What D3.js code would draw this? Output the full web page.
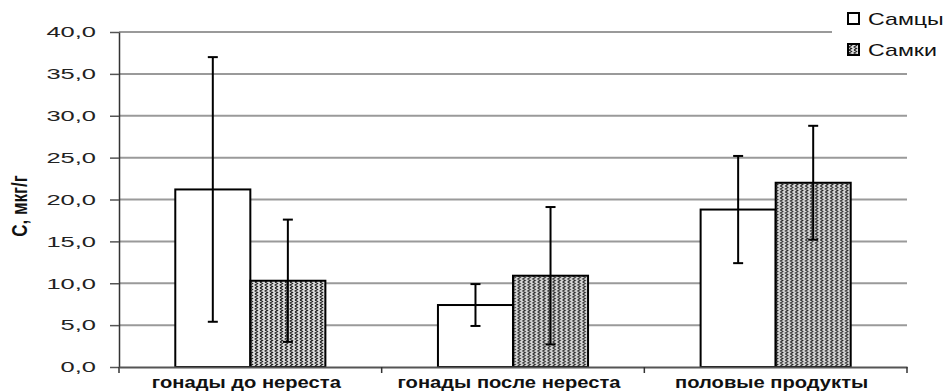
<!DOCTYPE html>
<html>
<head>
<meta charset="utf-8">
<script src="https://cdn.jsdelivr.net/npm/d3@7"></script>
<style>
  body { margin: 0; background: #fff; }
  svg { display: block; font-family: Arial, "Liberation Sans", sans-serif; }
</style>
</head>
<body>
<div id="chart"></div>
<script>
const categories = ['гонады до нереста', 'гонады после нереста', 'половые продукты']
const seriesNames = ['Самцы', 'Самки']
const males = [21.2, 7.4, 18.8]
const malesErr = [15.8, 2.5, 6.4]
const females = [10.3, 10.9, 22.0]
const femalesErr = [7.3, 8.2, 6.8]
const yTicks = [0, 5, 10, 15, 20, 25, 30, 35, 40]
const yLabel = 'С, мкг/г'

function draw(el) {
    let dimensions = {
        width: 946,
        height: 392,
        left: 119,
        right: 907,
        top: 32,
        bottom: 367,
    }

    const rows = categories.map((c, i) => ({
        cat: c,
        values: [
            { s: seriesNames[0], v: males[i], e: malesErr[i] },
            { s: seriesNames[1], v: females[i], e: femalesErr[i] },
        ]
    }))

    const x = d3.scaleBand()
        .domain(categories)
        .range([dimensions.left, dimensions.right])

    const xInner = d3.scaleBand()
        .domain(seriesNames)
        .range([0, x.bandwidth()])
        .paddingOuter(0.75)

    const y = d3.scaleLinear()
        .domain([0, 40])
        .range([dimensions.bottom, dimensions.top])

    const locale = d3.formatLocale({ decimal: ',', thousands: ' ', grouping: [3], currency: ['', ''] })
    const fmt = locale.format('.1f')

    const svg = d3.select(el)
        .append('svg')
        .attr('width', dimensions.width)
        .attr('height', dimensions.height)

    const defs = svg.append('defs')
    const pat = defs.append('pattern')
        .attr('id', 'zig')
        .attr('patternUnits', 'userSpaceOnUse')
        .attr('width', 5)
        .attr('height', 6)
    pat.append('rect').attr('width', 5).attr('height', 6).attr('fill', '#e0e0e0')
    pat.append('path')
        .attr('d', 'M1,0 L3.5,1.5 L1,3 L3.5,4.5 L1,6')
        .attr('fill', 'none')
        .attr('stroke', '#222')
        .attr('stroke-width', 1.2)

    const fill = { 'Самцы': '#fff', 'Самки': 'url(#zig)' }

    // grid
    svg.append('g')
        .selectAll('line')
        .data(yTicks.filter(d => d > 0))
        .join('line')
        .attr('x1', dimensions.left)
        .attr('x2', dimensions.right)
        .attr('y1', d => y(d))
        .attr('y2', d => y(d))
        .attr('stroke', '#9a9a9a')
        .attr('stroke-width', 2)

    // bars
    const groups = svg.append('g')
        .selectAll('g')
        .data(rows)
        .join('g')
        .attr('transform', d => `translate(${x(d.cat)},0)`)

    groups.selectAll('rect')
        .data(d => d.values)
        .join('rect')
        .attr('x', d => xInner(d.s))
        .attr('y', d => y(d.v))
        .attr('width', xInner.bandwidth())
        .attr('height', d => y(0) - y(d.v))
        .attr('fill', d => fill[d.s])
        .attr('stroke', '#000')
        .attr('stroke-width', 2)

    // error bars
    const err = groups.selectAll('g.err')
        .data(d => d.values)
        .join('g')
        .attr('class', 'err')
        .attr('transform', d => `translate(${xInner(d.s) + xInner.bandwidth() / 2},0)`)
        .attr('stroke', '#000')
        .attr('stroke-width', 2)

    err.append('line')
        .attr('y1', d => y(d.v - d.e))
        .attr('y2', d => y(d.v + d.e))
    err.append('line')
        .attr('x1', -5).attr('x2', 5)
        .attr('y1', d => y(d.v + d.e))
        .attr('y2', d => y(d.v + d.e))
    err.append('line')
        .attr('x1', -5).attr('x2', 5)
        .attr('y1', d => y(d.v - d.e))
        .attr('y2', d => y(d.v - d.e))

    // y axis
    const sx = 1.7
    const yAxis = svg.append('g')
        .attr('transform', `translate(${dimensions.left},0)`)
        .call(d3.axisLeft(y).tickValues(yTicks).tickFormat(fmt).tickSize(9).tickSizeOuter(0))
    yAxis.select('.domain').attr('stroke', '#333').attr('stroke-width', 1.5)
    yAxis.selectAll('.tick line').attr('stroke', '#555').attr('stroke-width', 1.5)
    yAxis.selectAll('.tick text')
        .attr('font-size', 15)
        .attr('fill', '#222')
        .attr('font-family', 'Arial, "Liberation Sans", sans-serif')
        .attr('x', -23 / sx)
        .attr('transform', `scale(${sx},1)`)

    // x axis
    const xAxis = svg.append('g')
        .attr('transform', `translate(0,${dimensions.bottom})`)
        .call(d3.axisBottom(x).tickSize(0).tickSizeOuter(0))
    xAxis.select('.domain').attr('stroke', '#555').attr('stroke-width', 2)
    xAxis.selectAll('.tick text')
        .attr('font-size', 16)
        .attr('font-weight', 'bold')
        .attr('fill', '#111')
        .attr('font-family', 'Arial, "Liberation Sans", sans-serif')
        .attr('y', 0)
        .attr('dy', 0)
        .attr('transform', 'translate(-4,21) scale(1.26,1)')

    // category separators
    const bounds = categories.map(c => x(c)).concat([x.range()[1]])
    xAxis.append('g')
        .selectAll('line')
        .data(bounds)
        .join('line')
        .attr('x1', d => d).attr('x2', d => d)
        .attr('y1', 0).attr('y2', 6)
        .attr('stroke', '#333')
        .attr('stroke-width', 1.5)

    // y label
    svg.append('text')
        .attr('transform', `translate(27,206) rotate(-90) scale(1,1.3)`)
        .attr('text-anchor', 'middle')
        .attr('font-size', 17)
        .attr('font-weight', 'bold')
        .attr('fill', '#111')
        .text(yLabel)

    // legend
    const legend = svg.append('g')
    legend.append('rect')
        .attr('x', 832).attr('y', 4)
        .attr('width', 114).attr('height', 62)
        .attr('fill', '#fff')

    const items = legend.selectAll('g')
        .data(seriesNames)
        .join('g')
        .attr('transform', (d, i) => `translate(848,${13 + i * 31})`)
    items.append('rect')
        .attr('width', 11).attr('height', 11)
        .attr('fill', d => fill[d])
        .attr('stroke', '#000')
        .attr('stroke-width', 2)
    items.append('text')
        .attr('transform', 'translate(20,12) scale(1.45,1)')
        .attr('font-size', 16)
        .attr('fill', '#111')
        .text(d => d)
}

draw('#chart')
</script>
</body>
</html>
